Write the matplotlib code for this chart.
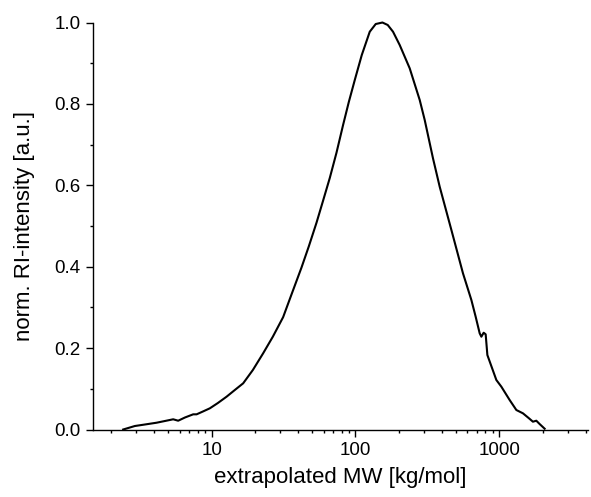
import matplotlib
matplotlib.use("Agg")
import matplotlib.pyplot as plt
from matplotlib.ticker import FixedLocator, FuncFormatter, NullFormatter, MultipleLocator, LogLocator

plt.rcParams['font.family'] = ['Liberation Sans', 'DejaVu Sans']

# Molecular weight distribution (RI detector, normalised)
mw = [2.43, 2.93, 3.44, 4.15, 4.74, 5.41, 5.86, 6.53, 7.45, 7.87, 8.70, 9.73,
      11.06, 12.71, 14.51, 16.58, 19.36, 22.82, 26.65, 31.42, 36.12, 42.17,
      47.4, 53.6, 59.3, 66.3, 73.8, 82.0, 89.9, 98.9, 110.6, 125.7, 138.3,
      154.0, 167.6, 182.4, 203.0, 238.2, 279.6, 302.9, 345.8, 384.9, 464.2,
      558.7, 639.1, 684.5, 729.9, 749.9, 778.0, 803.4, 825.5, 953.2, 1032.5,
      1179.0, 1312.6, 1458.5, 1597.0, 1711.0, 1807.0, 1905.0, 2064.0]
intensity = [0.0, 0.0086, 0.0123, 0.0167, 0.0209, 0.0251, 0.0216, 0.0295,
             0.0373, 0.0373, 0.0442, 0.0521, 0.0651, 0.0806, 0.0971, 0.1135,
             0.1462, 0.1872, 0.228, 0.276, 0.334, 0.398, 0.450, 0.508,
             0.560, 0.618, 0.680, 0.748, 0.8047, 0.8587, 0.920, 0.9774,
             0.9963, 1.0, 0.9939, 0.9774, 0.9447, 0.8875, 0.8096, 0.7604,
             0.6663, 0.5966, 0.4902, 0.3838, 0.3182, 0.2771, 0.2364, 0.228,
             0.2378, 0.2339, 0.183, 0.1216, 0.1052, 0.0725, 0.0479, 0.0398,
             0.0283, 0.0192, 0.0216, 0.0135, 0.002]

x_major = [10, 100, 1000]
y_major = [0.0, 0.2, 0.4, 0.6, 0.8, 1.0]

fig = plt.figure(figsize=(5.91, 4.97), dpi=100)
ax = fig.add_axes([0.1574, 0.1358, 0.838, 0.8189])

ax.plot(mw, intensity, color='black', lw=1.5, clip_on=False)

ax.set_xscale('log')
ax.set_xlim(1.5, 4150)
ax.set_ylim(0.0, 1.0)

ax.xaxis.set_major_locator(FixedLocator(x_major))
ax.xaxis.set_major_formatter(FuncFormatter(lambda v, p: f"{v:g}"))
ax.xaxis.set_minor_locator(LogLocator(base=10, subs=range(2, 10), numticks=20))
ax.xaxis.set_minor_formatter(NullFormatter())
ax.yaxis.set_major_locator(FixedLocator(y_major))
ax.yaxis.set_major_formatter(FuncFormatter(lambda v, p: f"{v:.1f}"))
ax.yaxis.set_minor_locator(MultipleLocator(0.1))

for side in ('top', 'right'):
    ax.spines[side].set_visible(False)
for side in ('left', 'bottom'):
    ax.spines[side].set_linewidth(1.0)

ax.tick_params(which='major', direction='out', length=5, width=1.0,
               labelsize=13.5, pad=4)
ax.tick_params(which='minor', direction='out', length=2.5, width=1.0)

ax.set_xlabel('extrapolated MW [kg/mol]', fontsize=16, labelpad=6)
ax.set_ylabel('norm. RI-intensity [a.u.]', fontsize=16, labelpad=14)

fig.savefig('out.png', dpi=100)
